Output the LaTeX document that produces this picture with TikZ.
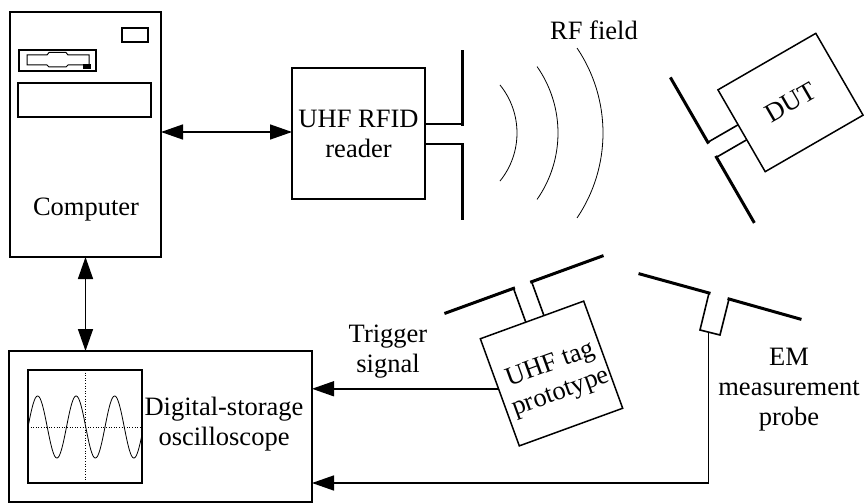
\documentclass[tikz,border=0pt]{standalone}
\usepackage{fontspec}
\setmainfont{Liberation Serif}
\usetikzlibrary{arrows.meta,calc}
\begin{document}
\begin{tikzpicture}[x=1pt,y=-1pt,
  box/.style={draw,line width=1.5pt,inner sep=0pt,outer sep=0pt},
  lbl/.style={align=center,font=\fontsize{26.5}{30}\selectfont,inner sep=0pt},
  tip/.tip={Triangle[length=22pt,width=15pt]},
  link/.style={line width=1.5pt,-tip},
  twoway/.style={line width=1.5pt,tip-tip},
  aerial/.style={line width=3pt,line cap=rect},
  feed/.style={line width=1.6pt},
  wave/.style={line width=0.8pt},
  detail/.style={line width=1.2pt}]
\useasboundingbox (0,0) rectangle (868,503);

% ---- computer tower ----
\node[box,minimum width=151pt,minimum height=245pt] (computer) at (85.5,134.5) {};
\draw[detail] (122,28) rectangle (148,42);
\draw[detail] (19,50) rectangle (96,71);
\draw[line width=1pt] (27,55) -- (47,55) -- (49,52.5) -- (66,52.5) -- (68,55) -- (89,55)
  -- (89,65) -- (68,65) -- (66,67) -- (49,67) -- (47,65) -- (27,65) -- cycle;
\fill (83,64) rectangle (91,69);
\draw[detail] (18,83) rectangle (151,117);
\node[lbl] (complabel) at (86,210) {Computer};

% ---- reader with its antenna ----
\node[box,lbl,minimum width=133pt,minimum height=131pt] (reader) at (358.5,133.5) {UHF RFID\\reader};
\draw[feed] (reader.east |- 0,124) -- (462,124);
\draw[feed] (reader.east |- 0,144) -- (462,144);
\draw[aerial] (462,124) -- (462,52);
\draw[aerial] (462,144) -- (462,218);
\draw[twoway] (computer.east |- 0,132) -- (reader.west |- 0,132);

% ---- radiated field ----
\draw[wave] ([shift={(-39:76.3)}]440.7,133) arc[start angle=-39,end angle=39,radius=76.3];
\draw[wave] ([shift={(-35:115.8)}]442.2,133) arc[start angle=-35,end angle=35,radius=115.8];
\draw[wave] ([shift={(-34:152)}]451,133) arc[start angle=-34,end angle=34,radius=152];
\node[lbl] (rflabel) at (594,30) {RF field};

% ---- device under test ----
\node[box,lbl,minimum width=113pt,minimum height=94.5pt,rotate=30] (dut) at (790.5,102.5) {DUT};
\begin{scope}[shift={(dut.center)},rotate=30]
  \draw[feed] (-56.5,-6.9) -- (-91.5,-6.9);
  \draw[aerial] (-91.5,-6.9) -- (-91.5,-80.3);
  \draw[feed] (-56.5,10.4) -- (-91.5,10.4);
  \draw[aerial] (-91.5,10.4) -- (-91.5,84.7);
\end{scope}

% ---- tag prototype ----
\node[box,minimum width=110pt,minimum height=114pt,rotate=20] (tag) at (551.5,373.5) {};
\node[lbl,rotate=20] (taglabel) at (556,379) {UHF tag\\prototype};
\begin{scope}[shift={(tag.center)},rotate=20]
  \draw[feed] (-6.6,-57) -- (-6.6,-93);
  \draw[aerial] (-6.6,-93) -- (-78.6,-93);
  \draw[feed] (12.7,-57) -- (12.7,-93);
  \draw[aerial] (12.7,-93) -- (87.7,-93);
\end{scope}

% ---- oscilloscope ----
\node[box,minimum width=303pt,minimum height=151pt] (dso) at (160.5,426.5) {};
\draw[detail] (28,370) rectangle (142,483);
\draw[dotted,line width=0.6pt] (85,370) -- (85,483);
\draw[dotted,line width=0.6pt] (28,427) -- (142,427);
% trace: 38.5pt period, 9.3506 deg per pt
\draw[line width=0.8pt] plot[domain=0:114,samples=200,smooth] ({28+\x},{427-31*sin(9.3506*\x)});
\node[lbl] (dsolabel) at (224,424.5) {Digital-storage\\oscilloscope};
\draw[twoway] (computer.south) -- (computer.south |- dso.north);

% ---- trigger line ----
\coordinate (trig) at ($(tag.north west)!0.467!(tag.south west)$);
\draw[link] (trig) -- (trig -| dso.east);
\node[lbl] (triglabel) at (388,352) {Trigger\\signal};

% ---- EM probe ----
\coordinate (probetip) at (708.3,332.5);
\draw[aerial] (640,274) -- (709,293);
\draw[feed] (709,293) -- (700,330) -- (720,335) -- (729,299);
\draw[aerial] (729,299) -- (800,319);
\draw[link] (probetip) |- ($(dso.south east)+(0,-19)$);
\node[lbl] (probelabel) at (789,390) {EM\\measurement\\probe};
\end{tikzpicture}
\end{document}
